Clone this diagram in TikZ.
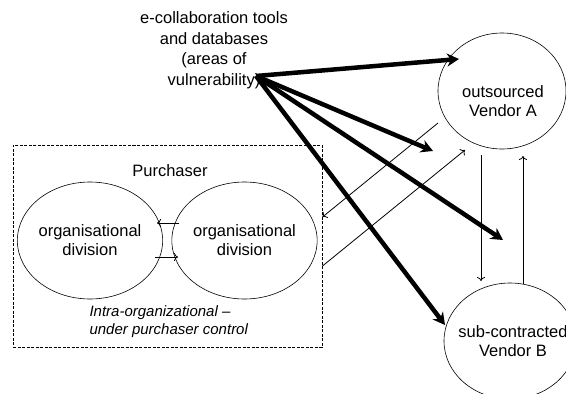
\documentclass[tikz,border=0pt]{standalone}
\usepackage{fontspec}
\setmainfont{Liberation Sans}
\usetikzlibrary{shapes.geometric,arrows.meta}
\begin{document}
\begin{tikzpicture}[x=1pt,y=-1pt,
  every node/.style={font=\fontsize{16.5}{19}\selectfont},
  oval/.style={draw,ellipse,line width=0.6pt,inner sep=0pt},
  thickarrow/.style={line width=4.5pt,-{Stealth[length=12pt,width=13pt,inset=4pt]}},
  thinarrow/.style={line width=0.8pt,-{To[length=4pt,width=8pt]}},
  boxstyle/.style={draw,line width=1pt,dash pattern=on 3pt off 1.5pt,inner sep=0pt}]
\useasboundingbox (0,0) rectangle (566,394);
\clip (0,0) rectangle (566,394);
% text and nodes
\node[align=center,font=\fontsize{16.5}{20.5}\selectfont] (tools) at (214,50) {e-collaboration tools\\and databases\\(areas of\\vulnerability)};
\coordinate (src) at (256,76);
\node[boxstyle,minimum width=309pt,minimum height=202pt] (box) at (167.5,246) {};
\node (purch) at (170,171) {Purchaser};
\node[oval,minimum width=134pt,minimum height=117pt,align=center] (org1) at (90,240.5) {organisational\\division};
\node[oval,minimum width=135pt,minimum height=117pt,align=center] (org2) at (244.5,240.5) {organisational\\division};
\node[anchor=west,align=left,font=\fontsize{15}{18}\itshape] (intra) at (86,322) {Intra-organizational --\\under purchaser control};
\node[oval,minimum width=128pt,minimum height=116pt] (vA) at (502,91) {};
\node[align=center] (vAt) at (503,101) {outsourced\\Vendor A};
\node[oval,minimum width=132pt,minimum height=116pt] (vB) at (510,341) {};
\node[align=center] (vBt) at (513,341) {sub-contracted\\Vendor B};
% free ends
\coordinate (tA) at (459,59);
\coordinate (t2) at (433,151);
\coordinate (t3) at (503,240);
\coordinate (tB) at (445,325);
\coordinate (a1s) at (438,123);
\coordinate (a1e) at (box.east |- 0,217);
\coordinate (a2s) at (box.east |- 0,266);
\coordinate (a2e) at (465,150);
\coordinate (dS) at (481,155);
\coordinate (dE) at (481,281);
\coordinate (uS) at (523,284);
\coordinate (uE) at (523,156);
\coordinate (o1s) at (179,223);
\coordinate (o1e) at (157,223);
\coordinate (o2s) at (155,257);
\coordinate (o2e) at (178,257);
% thin connectors
\draw[thinarrow] (a1s) -- (a1e);
\draw[thinarrow] (a2s) -- (a2e);
\draw[thinarrow] (dS) -- (dE);
\draw[thinarrow] (uS) -- (uE);
\draw[thinarrow] (o1s) -- (o1e);
\draw[thinarrow] (o2s) -- (o2e);
% thick connectors
\draw[thickarrow] (src) -- (tA);
\draw[thickarrow] (src) -- (t2);
\draw[thickarrow] (src) -- (t3);
\draw[thickarrow] (src) -- (tB);
\end{tikzpicture}
\end{document}
